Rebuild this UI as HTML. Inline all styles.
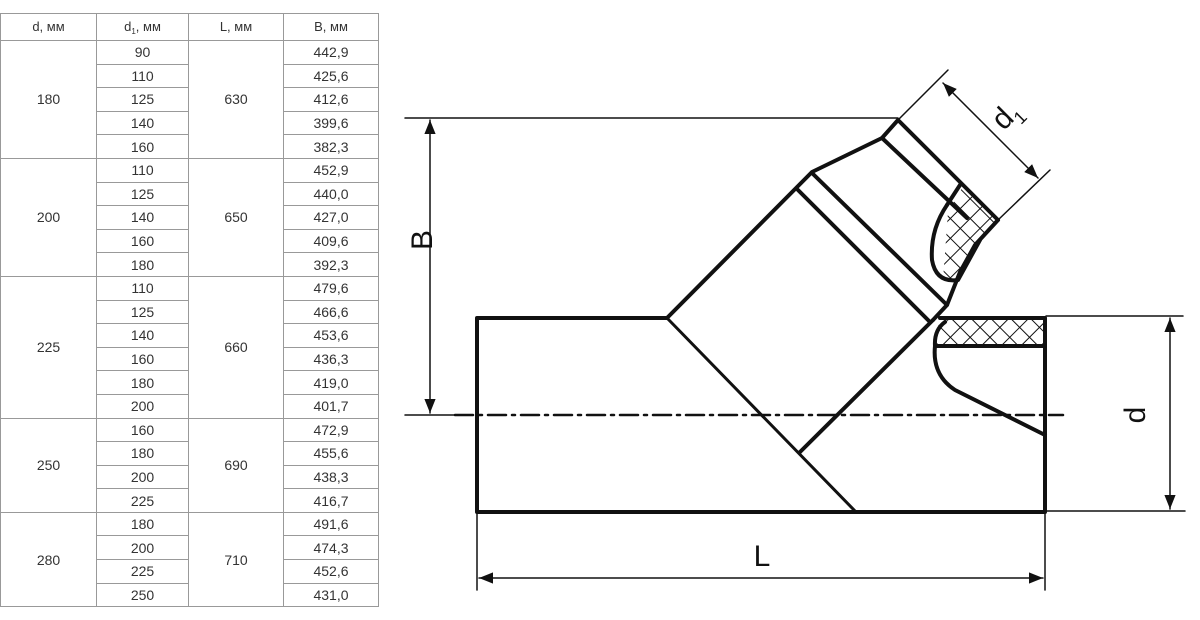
<!DOCTYPE html>
<html><head><meta charset="utf-8"><style>
html,body{margin:0;padding:0;background:#fff;width:1200px;height:620px;overflow:hidden;font-family:"Liberation Sans",sans-serif}
table{position:absolute;left:0;top:13px;border-collapse:collapse;width:378px;table-layout:fixed}
td{border:1px solid #999;text-align:center;font-size:14px;color:#333;height:22.6px;padding:0;line-height:16px}
tr.h td{height:26px;font-size:13px}
sub{font-size:8px;line-height:0;vertical-align:-3px}
svg{position:absolute;left:0;top:0}
</style></head><body>
<table>
<colgroup><col style="width:96px"><col style="width:92px"><col style="width:95px"><col style="width:95px"></colgroup>
<tr class="h"><td>d, мм</td><td>d<sub>1</sub>, мм</td><td>L, мм</td><td>B, мм</td></tr>
<tr><td rowspan="5">180</td><td>90</td><td rowspan="5">630</td><td>442,9</td></tr>
<tr><td>110</td><td>425,6</td></tr>
<tr><td>125</td><td>412,6</td></tr>
<tr><td>140</td><td>399,6</td></tr>
<tr><td>160</td><td>382,3</td></tr>
<tr><td rowspan="5">200</td><td>110</td><td rowspan="5">650</td><td>452,9</td></tr>
<tr><td>125</td><td>440,0</td></tr>
<tr><td>140</td><td>427,0</td></tr>
<tr><td>160</td><td>409,6</td></tr>
<tr><td>180</td><td>392,3</td></tr>
<tr><td rowspan="6">225</td><td>110</td><td rowspan="6">660</td><td>479,6</td></tr>
<tr><td>125</td><td>466,6</td></tr>
<tr><td>140</td><td>453,6</td></tr>
<tr><td>160</td><td>436,3</td></tr>
<tr><td>180</td><td>419,0</td></tr>
<tr><td>200</td><td>401,7</td></tr>
<tr><td rowspan="4">250</td><td>160</td><td rowspan="4">690</td><td>472,9</td></tr>
<tr><td>180</td><td>455,6</td></tr>
<tr><td>200</td><td>438,3</td></tr>
<tr><td>225</td><td>416,7</td></tr>
<tr><td rowspan="4">280</td><td>180</td><td rowspan="4">710</td><td>491,6</td></tr>
<tr><td>200</td><td>474,3</td></tr>
<tr><td>225</td><td>452,6</td></tr>
<tr><td>250</td><td>431,0</td></tr>
</table>
<svg width="1200" height="620" viewBox="0 0 1200 620">
<defs>
<marker id="a" viewBox="0 0 10 10" refX="10" refY="5" markerWidth="14" markerHeight="14" markerUnits="userSpaceOnUse" orient="auto-start-reverse"><path d="M0,1 L10,5 L0,9 z" fill="#111"/></marker>
<pattern id="h" width="14" height="14" patternUnits="userSpaceOnUse" patternTransform="rotate(45)"><path d="M0,0 L0,14 M0,0 L14,0" stroke="#111" stroke-width="2"/></pattern>
</defs>
<g stroke="#111" fill="none" stroke-linecap="round" stroke-linejoin="round">
<g stroke-width="1.5">
<line x1="405" y1="118" x2="898" y2="118"/>
<line x1="405" y1="415" x2="455" y2="415"/>
<line x1="430" y1="120" x2="430" y2="413" marker-start="url(#a)" marker-end="url(#a)"/>
<line x1="1046" y1="316" x2="1183" y2="316"/>
<line x1="1046" y1="511" x2="1185" y2="511"/>
<line x1="1170" y1="318" x2="1170" y2="509" marker-start="url(#a)" marker-end="url(#a)"/>
<line x1="477" y1="512" x2="477" y2="590"/>
<line x1="1045" y1="512" x2="1045" y2="590"/>
<line x1="479" y1="578" x2="1043" y2="578" marker-start="url(#a)" marker-end="url(#a)"/>
<line x1="898" y1="120" x2="948" y2="70"/>
<line x1="998" y1="220" x2="1050" y2="170"/>
<line x1="943" y1="83" x2="1038" y2="178" marker-start="url(#a)" marker-end="url(#a)"/>
</g>
<line x1="455" y1="415" x2="1063" y2="415" stroke-width="2.5" stroke-dasharray="18,6,3,6"/>
<path d="M940,322 Q950,318 990,318 L1045,318 L1045,346 L937,346 Q935,330 940,322 z" fill="url(#h)" stroke="none"/>
<path d="M962,188 L998,220 L975,245 Q965,270 957,282 L943,280 L948,212 z" fill="url(#h)" stroke="none"/>
<g stroke-width="4">
<polyline points="667,318 477,318 477,512 1045,512 1045,318 940,318"/>
<polyline points="667,318 812,172 882,138 898,120 998,220"/>
<line x1="798" y1="190" x2="930" y2="322"/>
<line x1="812" y1="173" x2="947" y2="305"/>
<line x1="882" y1="138" x2="967" y2="218"/>
<line x1="800" y1="452" x2="933" y2="320"/>
<polyline points="933,320 947,305 960,272 975,245 998,220"/>
<line x1="960" y1="185" x2="947" y2="205"/>
<path d="M947,205 Q930,230 932,260 Q936,283 958,280 L980,240"/>
<line x1="937" y1="346" x2="1045" y2="346"/>
<path d="M945,322 Q934,330 935,346 Q932,375 955,390 L1045,435"/>
</g>
<line x1="667" y1="318" x2="855" y2="511" stroke-width="3"/>
</g>
<g font-family="Liberation Sans, sans-serif" font-size="30" fill="#111">
<text x="762" y="566" text-anchor="middle">L</text>
<text transform="translate(432,240) rotate(-90)" text-anchor="middle">B</text>
<text transform="translate(1145,415) rotate(-90)" text-anchor="middle">d</text>
<text transform="translate(1013,122) rotate(-45)" text-anchor="middle">d<tspan font-size="18" dy="8">1</tspan></text>
</g>
</svg>
</body></html>
